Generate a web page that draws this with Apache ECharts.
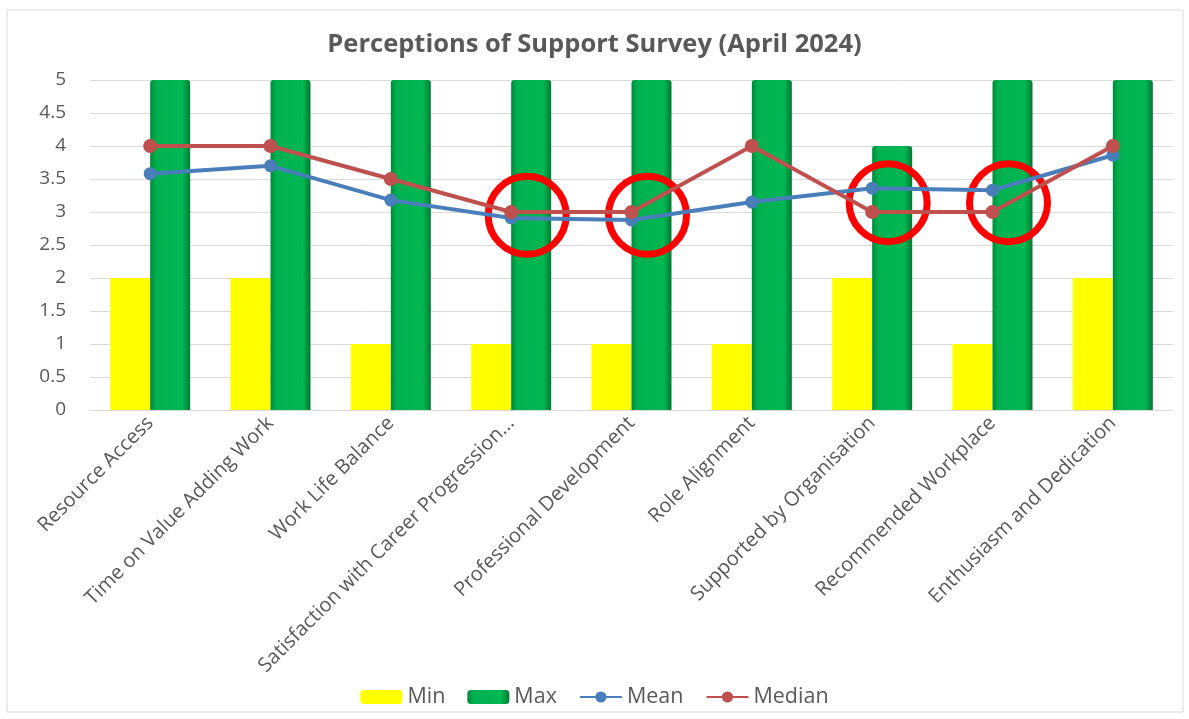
<!DOCTYPE html>
<html lang="en">
<head>
    <meta charset="UTF-8">
    <script src="https://cdn.jsdelivr.net/npm/echarts@6/dist/echarts.min.js"></script>
    <title>Perceptions of Support Survey</title>
    <style>
        html, body { margin: 0; padding: 0; background: #fff; }
        #chart { width: 1189px; height: 719px; }
    </style>
</head>
<body>
<div id="chart"></div>
<script type="text/javascript">
    var categories = ['Resource Access', 'Time on Value Adding Work', 'Work Life Balance',
        'Satisfaction with Career Progression...', 'Professional Development', 'Role Alignment',
        'Supported by Organisation', 'Recommended Workplace', 'Enthusiasm and Dedication'];
    var minValues = [2, 2, 1, 1, 1, 1, 2, 1, 2];
    var maxValues = [5, 5, 5, 5, 5, 5, 4, 5, 5];
    var meanValues = [3.58, 3.70, 3.18, 2.91, 2.88, 3.15, 3.36, 3.33, 3.86];
    var medianValues = [4, 4, 3.5, 3, 3, 4, 3, 3, 4];
    // highlighted points (category index, value) - the red rings
    var highlights = [[3, 2.95], [4, 2.95], [6, 3.14], [7, 3.14]];

    var font = '"Open Sans", Lato, sans-serif';
    var myChart = echarts.init(document.getElementById('chart'));
    var option = {
        animation: false,
        backgroundColor: '#fff',
        graphic: [{
            type: 'rect',
            shape: { x: 7, y: 10, width: 1176, height: 702 },
            style: { fill: 'none', stroke: '#d9d9d9', lineWidth: 1 },
            silent: true
        }],
        title: {
            text: 'Perceptions of Support Survey (April 2024)',
            left: 'center',
            top: 27,
            textStyle: { color: '#595959', fontSize: 25.5, fontWeight: 'bold', fontFamily: font }
        },
        legend: {
            bottom: 6,
            left: 'center',
            itemWidth: 42,
            itemHeight: 14,
            itemGap: 22,
            data: ['Min', 'Max', 'Mean', 'Median'],
            textStyle: { color: '#595959', fontSize: 21.5, fontFamily: font }
        },
        grid: { left: 90, right: 16, top: 80, bottom: 309 },
        xAxis: {
            type: 'category',
            data: categories,
            axisTick: { show: false },
            axisLine: { lineStyle: { color: '#d9d9d9', width: 1 } },
            axisLabel: {
                interval: 0,
                rotate: 45,
                margin: 10,
                color: '#595959',
                fontSize: 20,
                fontFamily: font
            }
        },
        yAxis: {
            type: 'value',
            min: 0,
            max: 5,
            interval: 0.5,
            axisLine: { show: false },
            axisTick: { show: false },
            splitLine: { lineStyle: { color: '#d9d9d9', width: 1 } },
            axisLabel: { color: '#595959', fontSize: 19, margin: 24, fontFamily: font }
        },
        series: [
            {
                name: 'Min',
                type: 'bar',
                data: minValues,
                barWidth: 40,
                barGap: '0%',
                itemStyle: { color: '#ffff00' }
            },
            {
                name: 'Max',
                type: 'bar',
                data: maxValues,
                barWidth: 40,
                itemStyle: {
                    color: new echarts.graphic.LinearGradient(0, 0, 1, 0, [
                        { offset: 0, color: '#008a3a' },
                        { offset: 0.15, color: '#00b050' },
                        { offset: 0.8, color: '#00b852' },
                        { offset: 1, color: '#007a32' }
                    ]),
                    borderRadius: [3, 3, 0, 0]
                }
            },
            {
                name: 'Mean',
                type: 'line',
                data: meanValues,
                symbol: 'circle',
                symbolSize: 13,
                lineStyle: { color: '#4a7ebb', width: 4 },
                itemStyle: { color: '#4a7ebb' },
                z: 5
            },
            {
                name: 'Median',
                type: 'line',
                data: medianValues,
                symbol: 'circle',
                symbolSize: 14,
                lineStyle: { color: '#c0504d', width: 4 },
                itemStyle: { color: '#c0504d' },
                z: 6,
                markPoint: {
                    symbol: 'circle',
                    symbolSize: 78,
                    symbolOffset: [16, 0],
                    label: { show: false },
                    itemStyle: { color: 'rgba(0,0,0,0)', borderColor: '#ff0000', borderWidth: 7 },
                    data: highlights.map(function (h) {
                        return { coord: [h[0], h[1]] };
                    })
                }
            }
        ]
    };
    myChart.setOption(option);
</script>
</body>
</html>
